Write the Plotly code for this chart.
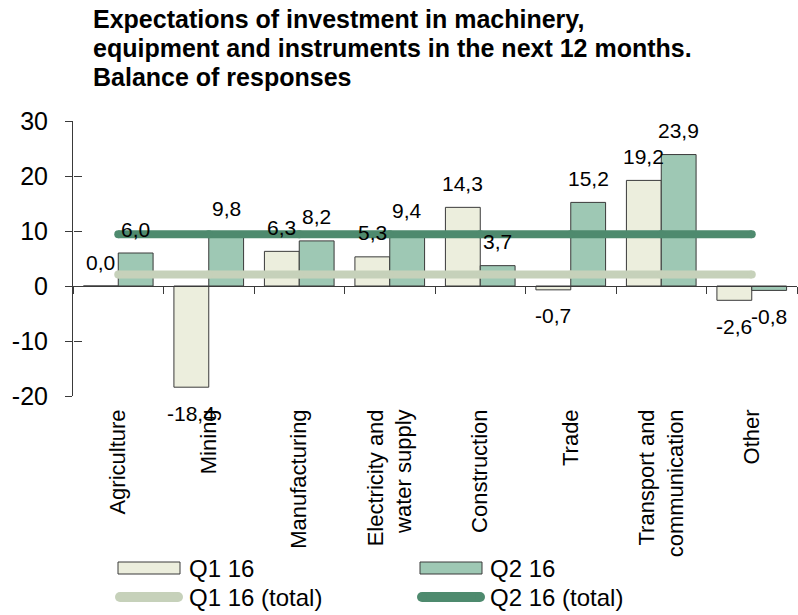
import plotly.graph_objects as go

categories = ["Agriculture", "Mining", "Manufacturing", "Electricity and<br>water supply",
              "Construction", "Trade", "Transport and<br>communication", "Other"]
q1_values = [0.0, -18.4, 6.3, 5.3, 14.3, -0.7, 19.2, -2.6]
q2_values = [6.0, 9.8, 8.2, 9.4, 3.7, 15.2, 23.9, -0.8]
q1_total = 2.1
q2_total = 9.4
series_names = ["Q1 16", "Q2 16", "Q1 16 (total)", "Q2 16 (total)"]
title_lines = ["Expectations of investment in machinery,",
               "equipment and instruments in the next 12 months.",
               "Balance of responses"]
y_ticks = [-20, -10, 0, 10, 20, 30]
y_ticktext = ["-20", "-10", "0", "10", "20", "30"]

FONT = "Liberation Sans, Arial, sans-serif"
C_Q1 = "#ECEEDD"
C_Q2 = "#9EC8B4"
C_Q1T = "#C6D1BA"
C_Q2T = "#4E8A6E"
C_EDGE = "#3A3A3A"

W, H = 798, 615
L, R, T, B = 73, 1, 121, 219
PW, PH = W - L - R, H - T - B


def pxx(p):
    return (p - L) / PW


def pxy(p):
    return (H - B - p) / PH


fig = go.Figure()
fig.add_trace(go.Bar(x=categories, y=q1_values, name=series_names[0],
                     marker=dict(color=C_Q1, line=dict(color=C_EDGE, width=1)),
                     showlegend=False))
fig.add_trace(go.Bar(x=categories, y=q2_values, name=series_names[1],
                     marker=dict(color=C_Q2, line=dict(color=C_EDGE, width=1)),
                     showlegend=False))
fig.add_trace(go.Scatter(x=categories, y=[q1_total] * len(categories), name=series_names[2],
                         mode="lines+markers", line=dict(color=C_Q1T, width=8),
                         marker=dict(color=C_Q1T, size=8, line=dict(width=0)),
                         xaxis="x2", yaxis="y2", showlegend=False))
fig.add_trace(go.Scatter(x=categories, y=[q2_total] * len(categories), name=series_names[3],
                         mode="lines+markers", line=dict(color=C_Q2T, width=8),
                         marker=dict(color=C_Q2T, size=8, line=dict(width=0)),
                         xaxis="x2", yaxis="y2", showlegend=False))

annotations = []
# data labels
for vals, xs in ((q1_values, -17.5), (q2_values, 17.5)):
    for c, v in zip(categories, vals):
        annotations.append(dict(x=c, y=v, xref="x", yref="y", xshift=xs,
                                yshift=24 if v >= 0 else -26,
                                text=f"{v:.1f}".replace(".", ","), showarrow=False,
                                font=dict(size=21, color="#000000", family=FONT)))
# title
for i, line in enumerate(title_lines):
    annotations.append(dict(x=pxx(91), y=pxy(19 + 29 * i), xref="paper", yref="paper",
                            xanchor="left", yanchor="middle", text=f"<b>{line}</b>",
                            showarrow=False, font=dict(size=25, color="#000000", family=FONT)))

shapes = []
# legend
leg = [(series_names[0], 118, 568, "box", C_Q1), (series_names[1], 420, 568, "box", C_Q2),
       (series_names[2], 120, 597, "line", C_Q1T), (series_names[3], 422, 597, "line", C_Q2T)]
for name, x0, yc, kind, col in leg:
    if kind == "box":
        shapes.append(dict(type="rect", xref="paper", yref="paper",
                           x0=pxx(x0), x1=pxx(x0 + 62), y0=pxy(yc - 6), y1=pxy(yc + 6),
                           fillcolor=col, line=dict(color=C_EDGE, width=1)))
    else:
        shapes.append(dict(type="line", xref="paper", yref="paper",
                           x0=pxx(x0), x1=pxx(x0 + 58), y0=pxy(yc), y1=pxy(yc),
                           line=dict(color=col, width=10)))
        for xe in (x0, x0 + 58):
            shapes.append(dict(type="circle", xref="paper", yref="paper",
                               xsizemode="pixel", ysizemode="pixel",
                               xanchor=pxx(xe), yanchor=pxy(yc),
                               x0=-5, x1=5, y0=-5, y1=5,
                               fillcolor=col, line=dict(width=0)))
    annotations.append(dict(x=pxx(187 if x0 < 300 else 488), y=pxy(yc), xref="paper", yref="paper",
                            xanchor="left", yanchor="middle", text=name, showarrow=False,
                            font=dict(size=24, color="#000000", family=FONT)))

fig.update_layout(
    width=W, height=H,
    margin=dict(l=L, r=R, t=T, b=B, pad=0),
    paper_bgcolor="#FFFFFF", plot_bgcolor="rgba(0,0,0,0)",
    font=dict(family=FONT, color="#000000"),
    barmode="group", bargap=0.23, bargroupgap=0,
    showlegend=False,
    xaxis=dict(range=[-0.5, len(categories) - 0.5], tickangle=-90,
               tickfont=dict(size=22, family=FONT, color="#000000"),
               ticks="", showline=False, showgrid=False, zeroline=False,
               ticklabelstandoff=8),
    xaxis2=dict(overlaying="x", anchor="free", position=20 / 50,
                range=[-0.5, len(categories) - 0.5],
                showticklabels=False, ticks="outside", ticklen=7, tickcolor=C_EDGE,
                tickson="boundaries", showline=True, linecolor=C_EDGE, linewidth=1,
                showgrid=False, zeroline=False),
    yaxis=dict(range=[-20, 30], tickvals=y_ticks, ticktext=y_ticktext,
               ticks="outside", ticklen=7,
               tickcolor=C_EDGE, showline=True, linecolor=C_EDGE, linewidth=1,
               showgrid=False, zeroline=False, ticklabelstandoff=12,
               tickfont=dict(size=25, family=FONT, color="#000000")),
    yaxis2=dict(overlaying="y", anchor="free", position=0, side="left",
                range=[-20, 30], tickvals=y_ticks, ticks="inside", ticklen=8,
                tickcolor=C_EDGE, showticklabels=False, showline=False,
                showgrid=False, zeroline=False),
    annotations=annotations,
    shapes=shapes,
)

fig.write_html("out.html", config={"displayModeBar": False},
               post_script="document.body.style.margin='0';document.body.style.overflow='hidden';")
